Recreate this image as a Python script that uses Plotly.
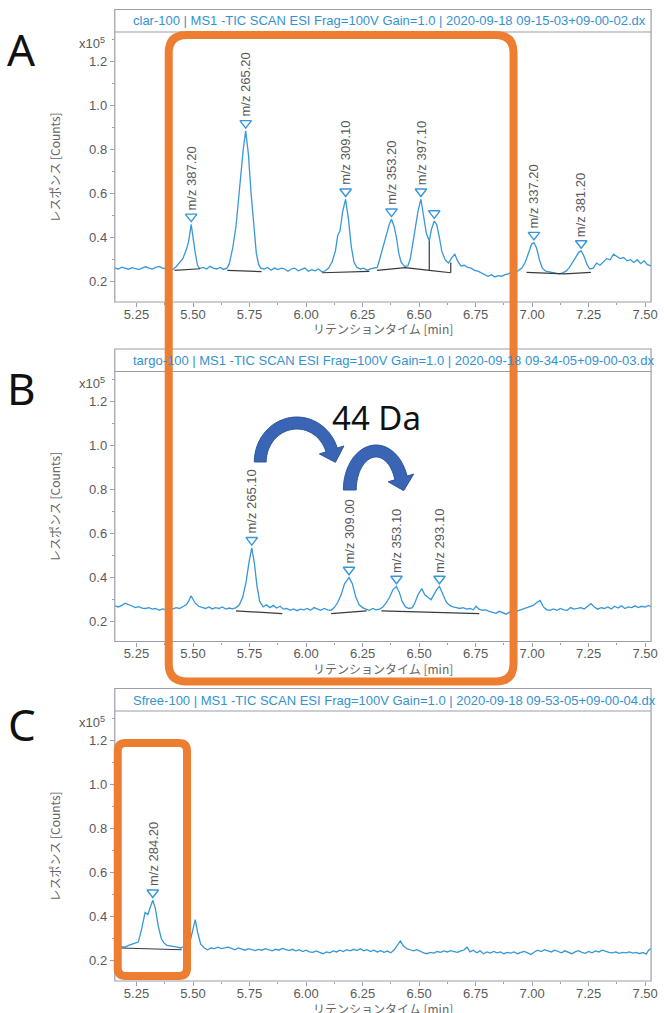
import math
import plotly.graph_objects as go

W, H = 664, 1013

# ---------------- data ----------------
titles = [
    "clar-100 | MS1 -TIC SCAN ESI Frag=100V Gain=1.0 | 2020-09-18 09-15-03+09-00-02.dx",
    "targo-100 | MS1 -TIC SCAN ESI Frag=100V Gain=1.0 | 2020-09-18 09-34-05+09-00-03.dx",
    "Sfree-100 | MS1 -TIC SCAN ESI Frag=100V Gain=1.0 | 2020-09-18 09-53-05+09-00-04.dx",
]
panel_letters = ["A", "B", "C"]

traceA = [(5.155, 0.262), (5.17, 0.258), (5.185, 0.266), (5.20, 0.262), (5.215, 0.257), (5.23, 0.264),
          (5.245, 0.259), (5.26, 0.255), (5.275, 0.262), (5.29, 0.268), (5.305, 0.262), (5.32, 0.258),
          (5.335, 0.265), (5.35, 0.270), (5.365, 0.262), (5.38, 0.258), (5.395, 0.262), (5.41, 0.256),
          (5.425, 0.268), (5.44, 0.285), (5.455, 0.305), (5.47, 0.345), (5.48, 0.38), (5.492, 0.461),
          (5.50, 0.40), (5.51, 0.33), (5.52, 0.275), (5.53, 0.260), (5.545, 0.265), (5.56, 0.258),
          (5.575, 0.270), (5.59, 0.262), (5.605, 0.258), (5.62, 0.265), (5.635, 0.256), (5.65, 0.262),
          (5.66, 0.28), (5.675, 0.35), (5.69, 0.45), (5.70, 0.56), (5.712, 0.70), (5.722, 0.80),
          (5.733, 0.886), (5.745, 0.78), (5.757, 0.60), (5.768, 0.45), (5.78, 0.33), (5.79, 0.28),
          (5.80, 0.262), (5.815, 0.258), (5.83, 0.265), (5.845, 0.252), (5.86, 0.262), (5.875, 0.255),
          (5.89, 0.262), (5.905, 0.258), (5.92, 0.248), (5.935, 0.258), (5.95, 0.262), (5.965, 0.250),
          (5.98, 0.256), (5.995, 0.262), (6.01, 0.248), (6.025, 0.255), (6.04, 0.250), (6.055, 0.258),
          (6.07, 0.245), (6.085, 0.250), (6.10, 0.262), (6.115, 0.29), (6.13, 0.34), (6.14, 0.41),
          (6.15, 0.43), (6.162, 0.52), (6.175, 0.575), (6.188, 0.48), (6.20, 0.36), (6.212, 0.29),
          (6.225, 0.265), (6.24, 0.258), (6.255, 0.262), (6.27, 0.252), (6.285, 0.258), (6.30, 0.262),
          (6.315, 0.265), (6.325, 0.30), (6.34, 0.36), (6.355, 0.42), (6.368, 0.46), (6.378, 0.484),
          (6.39, 0.45), (6.40, 0.40), (6.41, 0.33), (6.42, 0.29), (6.435, 0.27), (6.45, 0.272),
          (6.46, 0.30), (6.47, 0.36), (6.482, 0.44), (6.495, 0.52), (6.508, 0.575), (6.52, 0.50),
          (6.532, 0.42), (6.545, 0.385), (6.555, 0.44), (6.567, 0.476), (6.578, 0.46), (6.59, 0.40),
          (6.60, 0.34), (6.615, 0.30), (6.63, 0.285), (6.645, 0.31), (6.658, 0.325), (6.67, 0.295),
          (6.685, 0.272), (6.70, 0.275), (6.715, 0.265), (6.73, 0.262), (6.745, 0.252), (6.76, 0.248),
          (6.775, 0.240), (6.79, 0.232), (6.805, 0.225), (6.82, 0.232), (6.835, 0.222), (6.85, 0.228),
          (6.865, 0.225), (6.88, 0.232), (6.895, 0.236), (6.91, 0.245), (6.925, 0.240), (6.94, 0.252),
          (6.955, 0.262), (6.97, 0.29), (6.985, 0.34), (6.998, 0.372), (7.008, 0.378), (7.02, 0.352),
          (7.032, 0.30), (7.045, 0.262), (7.06, 0.248), (7.075, 0.245), (7.09, 0.240), (7.105, 0.238),
          (7.12, 0.236), (7.135, 0.240), (7.15, 0.248), (7.165, 0.265), (7.18, 0.29), (7.195, 0.32),
          (7.207, 0.335), (7.217, 0.340), (7.23, 0.315), (7.242, 0.28), (7.255, 0.258), (7.27, 0.262),
          (7.285, 0.285), (7.30, 0.275), (7.315, 0.290), (7.33, 0.305), (7.345, 0.30), (7.36, 0.325),
          (7.375, 0.315), (7.39, 0.305), (7.405, 0.310), (7.42, 0.295), (7.435, 0.300), (7.45, 0.288),
          (7.465, 0.300), (7.48, 0.282), (7.495, 0.295), (7.51, 0.278), (7.526, 0.272)]

traceB = [(5.155, 0.270), (5.17, 0.265), (5.185, 0.272), (5.20, 0.282), (5.215, 0.276), (5.23, 0.268),
          (5.245, 0.262), (5.26, 0.266), (5.275, 0.260), (5.29, 0.258), (5.305, 0.262), (5.32, 0.255),
          (5.335, 0.258), (5.35, 0.250), (5.365, 0.256), (5.38, 0.252), (5.395, 0.258), (5.41, 0.255),
          (5.425, 0.262), (5.44, 0.258), (5.455, 0.266), (5.47, 0.275), (5.48, 0.290), (5.491, 0.315),
          (5.50, 0.300), (5.51, 0.282), (5.525, 0.268), (5.54, 0.262), (5.555, 0.258), (5.57, 0.265),
          (5.585, 0.256), (5.60, 0.262), (5.615, 0.258), (5.63, 0.265), (5.645, 0.255), (5.66, 0.260),
          (5.675, 0.256), (5.69, 0.262), (5.705, 0.275), (5.72, 0.31), (5.735, 0.38), (5.748, 0.47),
          (5.76, 0.534), (5.772, 0.46), (5.783, 0.36), (5.795, 0.29), (5.81, 0.265), (5.825, 0.275),
          (5.84, 0.262), (5.855, 0.272), (5.87, 0.260), (5.885, 0.268), (5.90, 0.255), (5.915, 0.258),
          (5.93, 0.250), (5.945, 0.256), (5.96, 0.248), (5.975, 0.255), (5.99, 0.252), (6.005, 0.258),
          (6.02, 0.250), (6.035, 0.262), (6.05, 0.255), (6.065, 0.250), (6.08, 0.258), (6.095, 0.252),
          (6.11, 0.250), (6.125, 0.262), (6.14, 0.285), (6.155, 0.32), (6.17, 0.37), (6.19, 0.399),
          (6.205, 0.37), (6.22, 0.31), (6.235, 0.275), (6.25, 0.262), (6.265, 0.255), (6.28, 0.250),
          (6.295, 0.258), (6.31, 0.252), (6.325, 0.255), (6.34, 0.265), (6.355, 0.285), (6.37, 0.31),
          (6.385, 0.345), (6.40, 0.358), (6.413, 0.33), (6.425, 0.29), (6.44, 0.265), (6.455, 0.258),
          (6.47, 0.262), (6.482, 0.285), (6.495, 0.32), (6.512, 0.349), (6.525, 0.32), (6.54, 0.31),
          (6.553, 0.298), (6.565, 0.32), (6.578, 0.345), (6.59, 0.358), (6.605, 0.32), (6.62, 0.288),
          (6.635, 0.272), (6.65, 0.265), (6.665, 0.262), (6.68, 0.258), (6.695, 0.262), (6.71, 0.255),
          (6.725, 0.258), (6.74, 0.252), (6.752, 0.268), (6.765, 0.255), (6.78, 0.250), (6.795, 0.252),
          (6.81, 0.245), (6.825, 0.240), (6.84, 0.236), (6.855, 0.245), (6.87, 0.238), (6.885, 0.232),
          (6.90, 0.242), (6.915, 0.238), (6.93, 0.245), (6.945, 0.250), (6.96, 0.256), (6.975, 0.262),
          (6.99, 0.268), (7.005, 0.272), (7.02, 0.285), (7.035, 0.295), (7.05, 0.265), (7.065, 0.252),
          (7.08, 0.250), (7.095, 0.256), (7.11, 0.250), (7.125, 0.258), (7.14, 0.252), (7.155, 0.250),
          (7.17, 0.262), (7.185, 0.255), (7.20, 0.258), (7.215, 0.262), (7.23, 0.256), (7.245, 0.268),
          (7.26, 0.280), (7.275, 0.265), (7.29, 0.255), (7.305, 0.262), (7.32, 0.258), (7.335, 0.265),
          (7.35, 0.256), (7.365, 0.268), (7.38, 0.260), (7.395, 0.270), (7.41, 0.258), (7.425, 0.265),
          (7.44, 0.262), (7.455, 0.270), (7.47, 0.262), (7.485, 0.268), (7.50, 0.264), (7.515, 0.272),
          (7.526, 0.266)]

traceC = [(5.155, 0.262), (5.17, 0.258), (5.185, 0.264), (5.20, 0.262), (5.215, 0.270), (5.23, 0.277),
          (5.244, 0.280), (5.258, 0.285), (5.273, 0.345), (5.288, 0.420), (5.30, 0.410), (5.31, 0.440),
          (5.322, 0.475), (5.333, 0.440), (5.346, 0.360), (5.36, 0.300), (5.372, 0.280), (5.385, 0.270),
          (5.40, 0.268), (5.415, 0.265), (5.43, 0.262), (5.445, 0.258), (5.46, 0.265), (5.475, 0.272),
          (5.49, 0.30), (5.50, 0.345), (5.51, 0.387), (5.52, 0.331), (5.534, 0.275), (5.55, 0.258),
          (5.565, 0.250), (5.58, 0.258), (5.595, 0.255), (5.61, 0.262), (5.625, 0.255), (5.64, 0.258),
          (5.655, 0.262), (5.67, 0.256), (5.685, 0.250), (5.70, 0.258), (5.715, 0.252), (5.73, 0.248),
          (5.745, 0.255), (5.76, 0.250), (5.775, 0.246), (5.79, 0.252), (5.805, 0.248), (5.82, 0.255),
          (5.835, 0.250), (5.85, 0.245), (5.865, 0.252), (5.88, 0.248), (5.895, 0.256), (5.91, 0.250),
          (5.925, 0.246), (5.94, 0.252), (5.955, 0.245), (5.97, 0.250), (5.985, 0.242), (6.00, 0.248),
          (6.015, 0.240), (6.03, 0.238), (6.045, 0.245), (6.06, 0.238), (6.075, 0.232), (6.09, 0.240),
          (6.105, 0.236), (6.12, 0.245), (6.135, 0.240), (6.15, 0.248), (6.165, 0.242), (6.18, 0.250),
          (6.195, 0.245), (6.21, 0.252), (6.225, 0.246), (6.24, 0.255), (6.255, 0.245), (6.27, 0.250),
          (6.285, 0.242), (6.30, 0.248), (6.315, 0.240), (6.33, 0.246), (6.345, 0.238), (6.36, 0.244),
          (6.375, 0.236), (6.39, 0.250), (6.405, 0.275), (6.417, 0.290), (6.43, 0.268), (6.445, 0.255),
          (6.46, 0.250), (6.475, 0.245), (6.49, 0.250), (6.505, 0.242), (6.52, 0.236), (6.535, 0.232),
          (6.55, 0.238), (6.565, 0.235), (6.58, 0.242), (6.595, 0.238), (6.61, 0.245), (6.625, 0.240),
          (6.64, 0.246), (6.655, 0.242), (6.67, 0.238), (6.685, 0.245), (6.70, 0.250), (6.712, 0.262),
          (6.725, 0.240), (6.74, 0.248), (6.755, 0.236), (6.77, 0.245), (6.785, 0.232), (6.80, 0.240),
          (6.815, 0.235), (6.83, 0.242), (6.845, 0.236), (6.86, 0.240), (6.875, 0.232), (6.89, 0.238),
          (6.905, 0.235), (6.92, 0.240), (6.935, 0.232), (6.95, 0.238), (6.965, 0.242), (6.98, 0.236),
          (6.995, 0.228), (7.01, 0.240), (7.025, 0.248), (7.04, 0.242), (7.055, 0.250), (7.07, 0.245),
          (7.085, 0.240), (7.10, 0.248), (7.115, 0.242), (7.13, 0.236), (7.145, 0.245), (7.16, 0.240),
          (7.175, 0.232), (7.19, 0.240), (7.205, 0.246), (7.22, 0.238), (7.235, 0.234), (7.25, 0.242),
          (7.265, 0.236), (7.28, 0.245), (7.295, 0.240), (7.31, 0.248), (7.325, 0.242), (7.34, 0.238),
          (7.355, 0.236), (7.37, 0.240), (7.385, 0.234), (7.40, 0.238), (7.415, 0.236), (7.43, 0.240),
          (7.445, 0.235), (7.46, 0.238), (7.475, 0.232), (7.49, 0.238), (7.505, 0.230), (7.515, 0.248),
          (7.526, 0.255)]

peaksA_t = [5.492, 5.733, 6.175, 6.378, 6.508, 6.567, 7.008, 7.217]
peaksA_v = [0.461, 0.886, 0.575, 0.484, 0.575, 0.476, 0.378, 0.340]
peaksA_lbl = ["m/z 387.20", "m/z 265.20", "m/z 309.10", "m/z 353.20", "m/z 397.10", "",
              "m/z 337.20", "m/z 381.20"]

peaksB_t = [5.76, 6.19, 6.40, 6.59]
peaksB_v = [0.534, 0.399, 0.358, 0.358]
peaksB_lbl = ["m/z 265.10", "m/z 309.00", "m/z 353.10", "m/z 293.10"]

peaksC_t = [5.322]
peaksC_v = [0.475]
peaksC_lbl = ["m/z 284.20"]

baselineA = [[(5.418, 0.252), (5.531, 0.259)],
             [(5.652, 0.252), (5.803, 0.246)],
             [(6.071, 0.241), (6.280, 0.247)],
             [(6.314, 0.252), (6.439, 0.264), (6.545, 0.252), (6.640, 0.241)],
             [(6.545, 0.252), (6.545, 0.385)],
             [(6.640, 0.241), (6.640, 0.287)],
             [(6.975, 0.243), (7.143, 0.236), (7.26, 0.243)]]
baselineB = [[(5.690, 0.247), (5.895, 0.235)],
             [(6.111, 0.235), (6.268, 0.247)],
             [(6.333, 0.247), (6.766, 0.235)]]
baselineC = [[(5.18, 0.258), (5.45, 0.250)]]

x_ticks = [5.25, 5.50, 5.75, 6.00, 6.25, 6.50, 6.75, 7.00, 7.25, 7.50]
y_ticks = [0.2, 0.4, 0.6, 0.8, 1.0, 1.2]

panels = [
    (traceA, peaksA_t, peaksA_v, peaksA_lbl, baselineA),
    (traceB, peaksB_t, peaksB_v, peaksB_lbl, baselineB),
    (traceC, peaksC_t, peaksC_v, peaksC_lbl, baselineC),
]

# ---------------- styling / layout ----------------
BLUE = "#3797d8"
TITLE_BLUE = "#3592d2"
FRAME = "#9a9eac"
TICKTXT = "#5a5a5a"
ORANGE = "#ED7D31"
ARROW = "#3a65b5"

X_RANGE = [5.154, 7.526]
Y_RANGE = [0.108, 1.335]
OFFSETS = [0.0, 339.5, 679.0]      # vertical pixel offsets of the panels
PLOT_L, PLOT_R = 116, 658
TITLE_TOP, PLOT_TOP, PLOT_BOT = 9.5, 32, 302
LETTER_Y = [49, 388, 724]


def px(x):
    return x / W


def py(y):
    return 1 - y / H


fig = go.Figure()
annotations = []
shapes = []

for i, (trace, pk_t, pk_v, pk_lbl, blines) in enumerate(panels):
    n = "" if i == 0 else str(i + 1)
    xa, ya = "x" + n, "y" + n
    o = OFFSETS[i]

    fig.add_trace(go.Scatter(x=[p[0] for p in trace], y=[p[1] for p in trace], mode="lines",
                             line=dict(color=BLUE, width=1.3), xaxis=xa, yaxis=ya,
                             hoverinfo="skip"))
    bx, by = [], []
    for seg in blines:
        bx += [p[0] for p in seg] + [None]
        by += [p[1] for p in seg] + [None]
    fig.add_trace(go.Scatter(x=bx, y=by, mode="lines", line=dict(color="#3a3a3a", width=1.2),
                             xaxis=xa, yaxis=ya, hoverinfo="skip"))
    fig.add_trace(go.Scatter(x=pk_t, y=[v + 0.035 for v in pk_v], mode="markers",
                             marker=dict(symbol="triangle-down-open", size=10, color=BLUE,
                                         line=dict(width=1.4, color=BLUE)),
                             xaxis=xa, yaxis=ya, hoverinfo="skip", cliponaxis=False))
    for t, v, lbl in zip(pk_t, pk_v, pk_lbl):
        if lbl:
            annotations.append(dict(x=t, y=v, xref=xa, yref=ya, text=lbl, textangle=-90,
                                    showarrow=False, xanchor="center", yanchor="bottom", yshift=12,
                                    font=dict(family="Liberation Sans", size=13, color=TICKTXT)))

    dom = [py(PLOT_BOT + o), py(PLOT_TOP + o)]
    axis_font = dict(family="Liberation Sans", size=13, color=TICKTXT)
    fig.update_layout(**{
        "xaxis" + n: dict(domain=[px(PLOT_L), px(PLOT_R)], range=X_RANGE, anchor=ya,
                          tickvals=x_ticks, tickformat=".2f", ticks="outside", ticklen=4,
                          tickcolor=FRAME, showgrid=False, zeroline=False, showline=False,
                          tickfont=axis_font, ticklabeloverflow="allow", ticklabelstandoff=-4,
                          minor=dict(ticks="outside", ticklen=2, dtick=0.125, tick0=5.0,
                                     tickcolor=FRAME, showgrid=False)),
        "yaxis" + n: dict(domain=dom, range=Y_RANGE, anchor=xa,
                          tickvals=y_ticks, tickformat=".1f", ticks="outside", ticklen=4,
                          tickcolor=FRAME, showgrid=False, zeroline=False, showline=False,
                          tickfont=axis_font,
                          minor=dict(ticks="outside", ticklen=2, dtick=0.1, tick0=0.0,
                                     tickcolor=FRAME, showgrid=False)),
    })

    # frame with title bar
    shapes.append(dict(type="rect", xref="paper", yref="paper", x0=px(PLOT_L), x1=px(PLOT_R),
                       y0=py(PLOT_BOT + o), y1=py(TITLE_TOP + o), line=dict(color=FRAME, width=1.2),
                       layer="above"))
    shapes.append(dict(type="line", xref="paper", yref="paper", x0=px(PLOT_L), x1=px(PLOT_R),
                       y0=py(PLOT_TOP + o), y1=py(PLOT_TOP + o), line=dict(color=FRAME, width=1.2),
                       layer="above"))

    annotations.append(dict(x=px(132), y=py(21 + o), xref="paper", yref="paper", text=titles[i],
                            showarrow=False, xanchor="left", yanchor="middle",
                            font=dict(family="Liberation Sans", size=13, color=TITLE_BLUE)))
    annotations.append(dict(x=px(108), y=py(43 + o), xref="paper", yref="paper",
                            text="x10<sup>5</sup>", showarrow=False, xanchor="right",
                            yanchor="middle", font=dict(family="Liberation Sans", size=13,
                                                        color=TICKTXT)))
    annotations.append(dict(x=px(55), y=py(167 + o), xref="paper", yref="paper",
                            text="レスポンス [Counts]", textangle=-90, showarrow=False,
                            xanchor="center", yanchor="middle",
                            font=dict(family="Noto Sans CJK JP", size=12, color="#666666")))
    annotations.append(dict(x=px(387), y=py(329 + o), xref="paper", yref="paper",
                            text="リテンションタイム [min]", showarrow=False,
                            xanchor="center", yanchor="middle",
                            font=dict(family="Noto Sans CJK JP", size=12, color="#666666")))
    annotations.append(dict(x=px(22), y=py(LETTER_Y[i]), xref="paper", yref="paper",
                            text=panel_letters[i], showarrow=False, xanchor="center",
                            yanchor="middle", font=dict(family="Noto Sans", size=44,
                                                        color="#111111")))


def rounded_rect(x0, y0, x1, y1, r):
    def P(x, y):
        return f"{px(x):.5f},{py(y):.5f}"
    return (f"M {P(x0 + r, y0)} L {P(x1 - r, y0)} Q {P(x1, y0)} {P(x1, y0 + r)} "
            f"L {P(x1, y1 - r)} Q {P(x1, y1)} {P(x1 - r, y1)} L {P(x0 + r, y1)} "
            f"Q {P(x0, y1)} {P(x0, y1 - r)} L {P(x0, y0 + r)} Q {P(x0, y0)} {P(x0 + r, y0)} Z")


def curved_arrow(cx, cy, rxo, ryo, rxi, ryi, th_end, ext, tip_len):
    pts = []
    nseg = 30
    for k in range(nseg + 1):
        th = math.radians(180 + (th_end - 180) * k / nseg)
        pts.append((cx + rxo * math.cos(th), cy - ryo * math.sin(th)))
    te = math.radians(th_end)
    ox, oy = cx + rxo * math.cos(te), cy - ryo * math.sin(te)
    ix, iy = cx + rxi * math.cos(te), cy - ryi * math.sin(te)
    L = math.hypot(ox - ix, oy - iy)
    ux, uy = (ox - ix) / L, (oy - iy) / L
    mx, my = (ox + ix) / 2, (oy + iy) / 2
    tx, ty = (rxo + rxi) / 2 * math.sin(te), (ryo + ryi) / 2 * math.cos(te)
    tl = math.hypot(tx, ty)
    tx, ty = tx / tl, ty / tl
    pts += [(ox + ux * ext, oy + uy * ext), (mx + tx * tip_len, my + ty * tip_len),
            (ix - ux * ext, iy - uy * ext)]
    for k in range(nseg + 1):
        th = math.radians(th_end + (180 - th_end) * k / nseg)
        pts.append((cx + rxi * math.cos(th), cy - ryi * math.sin(th)))
    return "M " + " L ".join(f"{px(x):.5f},{py(y):.5f}" for x, y in pts) + " Z"


# highlight boxes
shapes.append(dict(type="path", xref="paper", yref="paper",
                   path=rounded_rect(170.5, 35, 519, 681.5, 18),
                   line=dict(color=ORANGE, width=8), layer="above"))
shapes.append(dict(type="path", xref="paper", yref="paper",
                   path=rounded_rect(119, 743, 189, 976, 8),
                   line=dict(color=ORANGE, width=8), layer="above"))
# 44 Da arrows (panel B)
shapes.append(dict(type="path", xref="paper", yref="paper",
                   path=curved_arrow(300, 462, 43, 45, 31, 33, 18, 7, 13),
                   fillcolor=ARROW, line=dict(color="#2c5699", width=1), layer="above"))
shapes.append(dict(type="path", xref="paper", yref="paper",
                   path=curved_arrow(380, 490, 33, 45, 20, 33, 18, 7, 13),
                   fillcolor=ARROW, line=dict(color="#2c5699", width=1), layer="above"))
annotations.append(dict(x=px(381), y=py(417), xref="paper", yref="paper", text="44 Da",
                        showarrow=False, xanchor="center", yanchor="middle",
                        font=dict(family="Noto Sans", size=33, color="#111111")))

fig.update_layout(width=W, height=H, autosize=False, margin=dict(l=0, r=0, t=0, b=0),
                  paper_bgcolor="white", plot_bgcolor="white", showlegend=False,
                  annotations=annotations, shapes=shapes)

fig.write_html("out.html", config={"displayModeBar": False})
